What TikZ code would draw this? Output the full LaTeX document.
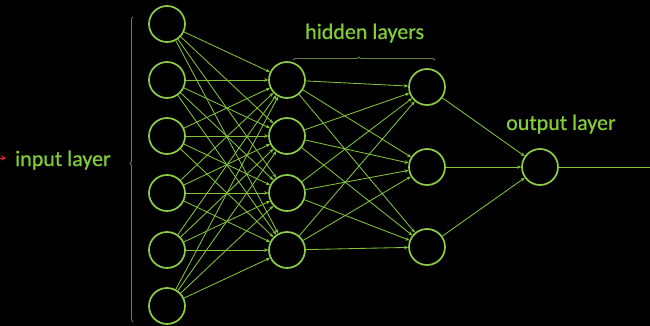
\documentclass[tikz,border=0pt]{standalone}
\usepackage{fontspec}
\setmainfont{Carlito}
\newfontfamily\labelfont[FakeBold=0.6]{Carlito}
\usetikzlibrary{arrows.meta,decorations.pathreplacing}
\definecolor{netgreen}{RGB}{140,205,70}
\definecolor{wiregreen}{RGB}{130,195,58}
\definecolor{bracegreen}{RGB}{100,130,65}
\definecolor{labelgreen}{RGB}{130,205,55}
\definecolor{markred}{RGB}{230,30,30}

\begin{document}
\begin{tikzpicture}[x=1pt,y=-1pt,
  neuron/.style={circle, draw=netgreen, line width=1.7pt, minimum size=36pt, inner sep=0pt},
  wire/.style={draw=wiregreen, line width=0.85pt, -{Stealth[length=4pt,width=3.5pt]}},
  plainwire/.style={draw=wiregreen, line width=0.9pt},
  layerlabel/.style={text=labelgreen, font=\labelfont\fontsize{22}{26}\selectfont, inner sep=0pt},
  bracket/.style={draw=bracegreen, line width=0.9pt, decorate}]

% canvas
\fill[black] (0,0) rectangle (650,326);
\useasboundingbox (0,0) rectangle (650,326);

% input layer
\foreach \i/\y in {1/24, 2/80, 3/136, 4/193, 5/250, 6/306}
  \node[neuron] (in\i) at (167,\y) {};
% first hidden layer
\foreach \i/\y in {1/80, 2/136, 3/193, 4/250}
  \node[neuron] (ha\i) at (287,\y) {};
% second hidden layer
\foreach \i/\y in {1/87, 2/167, 3/247}
  \node[neuron] (hb\i) at (427,\y) {};
% output neuron
\node[neuron] (out) at (540,167) {};
\coordinate (outend) at (650,167);

% connections
\foreach \i in {1,...,6}
  \foreach \j in {1,...,4}
    \draw[wire] (in\i) -- (ha\j);
\foreach \i in {1,...,4}
  \foreach \j in {1,...,3}
    \draw[wire] (ha\i) -- (hb\j);
\foreach \i in {1,...,3}
  \draw[wire] (hb\i) -- (out);
\draw[plainwire] (out) -- (outend);

% braces
\coordinate (lbtop) at (133,17);
\coordinate (lbbot) at (133,322);
\draw[bracket, decoration={brace, amplitude=3pt, aspect=0.52}] (lbbot) -- (lbtop);
\coordinate (hbl) at (293,60);
\coordinate (hbr) at (435,60);
\draw[bracket, decoration={brace, amplitude=3pt, aspect=0.465}] (hbl) -- (hbr);

% labels
\node[layerlabel, anchor=base west] (lin) at (15,166) {input layer};
\node[layerlabel, anchor=base west] (lhid) at (305,39) {hidden layers};
\node[layerlabel, anchor=base west] (lout) at (506,130) {output layer};

% red pointer
\coordinate (ptail) at (-2,158);
\coordinate (phead) at (6,158);
\draw[markred, line width=0.8pt, -{Stealth[length=5pt,width=5pt]}] (ptail) -- (phead);
\end{tikzpicture}
\end{document}
